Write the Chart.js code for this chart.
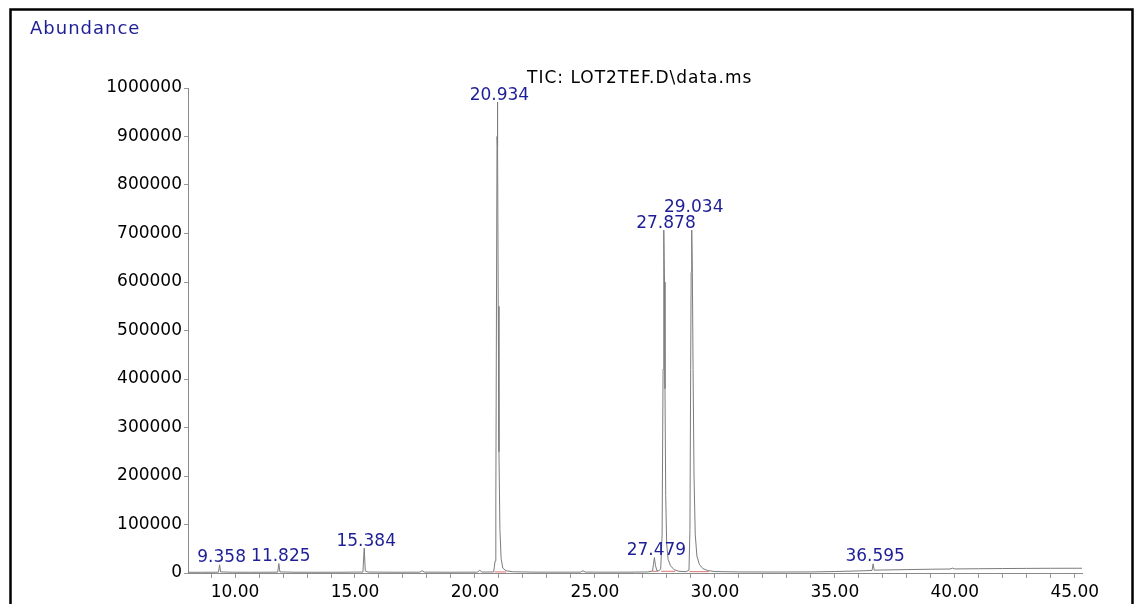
<!DOCTYPE html>
<html><head><meta charset="utf-8">
<script src="https://cdn.jsdelivr.net/npm/chart.js@4"></script>
<style>html,body{margin:0;padding:0;background:#fff;} canvas{display:block;}</style>
</head><body>
<canvas id="c" width="1139" height="604"></canvas>
<script>
// ---- data ----
const times = [
  8.05, 8.6, 9.2, 9.31, 9.358, 9.40, 9.9, 10.6, 11.3, 11.78, 11.825, 11.87, 12.5, 13.5, 14.5,
  15.33, 15.384, 15.43, 15.55, 16.5, 17.7, 17.8, 17.9, 19.0, 20.1, 20.2, 20.3,
  20.78, 20.84, 20.87, 20.90, 20.92, 20.934, 20.95, 20.97, 21.0, 21.04, 21.09, 21.16, 21.3, 21.6,
  22.5, 23.5, 24.4, 24.5, 24.6, 25.5, 26.5, 27.2,
  27.40, 27.44, 27.479, 27.52, 27.58, 27.66, 27.74, 27.80, 27.84, 27.86, 27.878, 27.90, 27.92, 27.95,
  27.99, 28.05, 28.15, 28.3, 28.5, 28.8,
  28.92, 28.96, 28.99, 29.01, 29.034, 29.06, 29.09, 29.13, 29.18, 29.25, 29.35, 29.5, 29.7, 30.0,
  31.0, 32.5, 34.0, 35.0, 36.0, 36.55, 36.595, 36.64, 37.0, 38.0, 39.0, 39.8, 39.9, 40.0,
  41.0, 42.0, 43.0, 44.0, 45.3
];
const abundance = [
  1500, 1500, 1600, 1800, 17000, 2200, 1600, 1500, 1600, 1800, 19500, 2300, 1600, 1500, 1600,
  2000, 51500, 4000, 2000, 1600, 1700, 4500, 1800, 1600, 1800, 5500, 1900,
  2200, 25000, 150000, 600000, 900000, 971000, 880000, 550000, 250000, 90000, 30000, 10000, 4500, 2500,
  1800, 1700, 1800, 4500, 1900, 1700, 1800, 2200,
  4000, 18000, 32000, 16000, 5000, 4500, 8000, 80000, 420000, 640000, 707000, 600000, 380000, 160000,
  60000, 28000, 15000, 7000, 3500, 2800,
  6000, 90000, 420000, 620000, 707000, 620000, 420000, 200000, 80000, 35000, 18000, 9000, 5000, 3000,
  2200, 2000, 2200, 3000, 4300, 5200, 19000, 5800, 6200, 7000, 7800, 8200, 10000, 8400,
  8800, 9200, 9500, 9700, 9800
];
const peakTimes = [9.358, 11.825, 15.384, 20.934, 27.479, 27.878, 29.034, 36.595];
const integrationStart = [20.82, 27.40, 27.76, 28.94];
const integrationEnd   = [21.30, 27.62, 28.35, 29.75];
const integrationLevel = [2200, 3500, 3500, 2800];
const xLabelTicks = [10, 15, 20, 25, 30, 35, 40, 45];
const xMinorTicks = [9,10,11,12,13,14,15,16,17,18,19,20,21,22,23,24,25,26,27,28,29,30,31,32,33,34,35,36,37,38,39,40,41,42,43,44,45];
const yTickStep = 100000;
const yMax = 1000000;
const xRange = [8.04, 45.3];
const yAxisTitle = 'Abundance';
const chartTitle = 'TIC: LOT2TEF.D\\data.ms';

// ---- build library structures ----
const FONT = '"DejaVu Sans", "Liberation Sans", Arial, sans-serif';
const tic = times.map((t, i) => ({x: t, y: abundance[i]}));
const integ = [];
integrationStart.forEach((s, i) => {
  integ.push({x: s, y: integrationLevel[i]});
  integ.push({x: integrationEnd[i], y: integrationLevel[i]});
  integ.push({x: integrationEnd[i] + 0.001, y: null});
});

const decorPlugin = {
  id: 'decor',
  beforeDraw(chart) {
    const ctx = chart.ctx;
    ctx.save();
    ctx.fillStyle = '#fff';
    ctx.fillRect(0, 0, chart.width, chart.height);
    ctx.restore();
  },
  afterDraw(chart) {
    const ctx = chart.ctx;
    const xs = chart.scales.x, ys = chart.scales.y;
    ctx.save();
    // frame
    ctx.strokeStyle = '#000';
    ctx.lineWidth = 2.5;
    ctx.strokeRect(10.5, 9.5, 1122, 700);
    // axis title
    ctx.letterSpacing = '1px';
    ctx.font = '18px ' + FONT;
    ctx.fillStyle = '#1e1e96';
    ctx.textAlign = 'left';
    ctx.textBaseline = 'alphabetic';
    ctx.fillText(yAxisTitle, 30, 34);
    // chart title
    ctx.font = '17px ' + FONT;
    ctx.letterSpacing = '1px';
    ctx.fillStyle = '#000';
    ctx.fillText(chartTitle, 527, 83);
    // peak labels
    ctx.letterSpacing = '0px';
    ctx.fillStyle = '#1e1e96';
    ctx.textAlign = 'center';
    const placed = [];
    peakTimes.forEach(t => {
      let idx = 0, best = Infinity;
      times.forEach((tt, i) => { const d = Math.abs(tt - t); if (d < best) { best = d; idx = i; } });
      const label = t.toFixed(3);
      const w = ctx.measureText(label).width;
      const cx = xs.getPixelForValue(t) + 2;
      let base = ys.getPixelForValue(abundance[idx]) - 2.5;
      let moved = true;
      while (moved) {
        moved = false;
        for (const p of placed) {
          const ox = Math.min(cx + w / 2, p.x1) - Math.max(cx - w / 2, p.x0);
          const oy = Math.min(base, p.b) - Math.max(base - 13, p.b - 13);
          if (ox > 4 && oy > 0) { base -= 16; moved = true; }
        }
      }
      placed.push({x0: cx - w / 2, x1: cx + w / 2, b: base});
      ctx.fillText(label, cx, base);
    });
    ctx.restore();
  }
};

new Chart(document.getElementById('c'), {
  type: 'line',
  data: {
    datasets: [
      {data: tic, borderColor: '#7c7c7c', borderWidth: 1, pointRadius: 0, tension: 0, fill: false},
      {data: integ, borderColor: 'rgba(220,90,90,0.85)', borderWidth: 1, pointRadius: 0, spanGaps: false, fill: false}
    ]
  },
  options: {
    responsive: false,
    animation: false,
    events: [],
    layout: {padding: {left: 88, right: 57, top: 88, bottom: 0}},
    plugins: {legend: {display: false}, tooltip: {enabled: false}, title: {display: false}},
    scales: {
      x: {
        type: 'linear',
        min: xRange[0], max: xRange[1],
        afterBuildTicks: s => { s.ticks = xMinorTicks.map(v => ({value: v})); },
        afterFit: s => { s.height = 31; s.paddingLeft = 0; s.paddingRight = 0; },
        ticks: {
          autoSkip: false, maxRotation: 0, padding: 4,
          color: '#000', font: {family: FONT, size: 17},
          callback: v => xLabelTicks.includes(v) ? v.toFixed(2) : ''
        },
        grid: {drawOnChartArea: false, drawTicks: true, tickLength: 5, tickColor: '#999'},
        border: {display: true, color: '#8a8a8a', width: 1}
      },
      y: {
        type: 'linear',
        min: 0, max: yMax,
        afterFit: s => { s.width = 100; s.paddingTop = 0; s.paddingBottom = 0; },
        ticks: {
          stepSize: yTickStep, padding: 2,
          color: '#000', font: {family: FONT, size: 17},
          callback: v => String(v)
        },
        grid: {drawOnChartArea: false, drawTicks: true, tickLength: 4, tickColor: '#999'},
        border: {display: true, color: '#8a8a8a', width: 1}
      }
    }
  },
  plugins: [decorPlugin]
});
</script>
</body></html>
